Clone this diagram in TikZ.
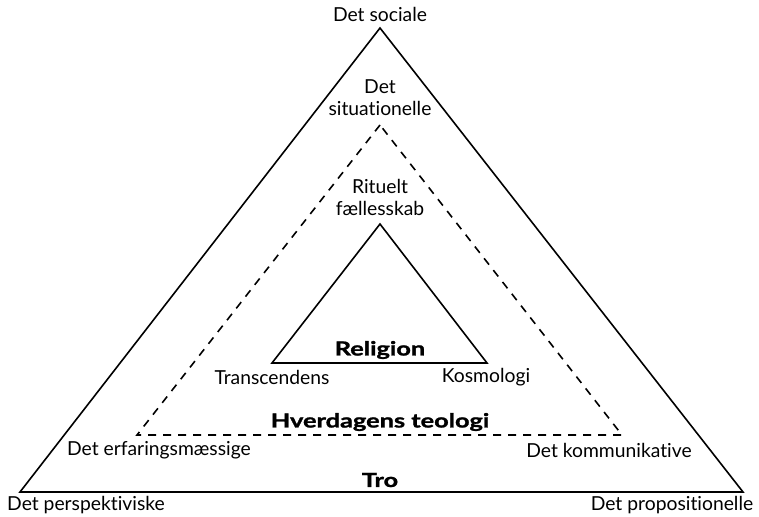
\documentclass[tikz,border=0pt]{standalone}
\usepackage{fontspec}
\setmainfont{Lato}[Ligatures={NoCommon,NoRare,NoDiscretionary}]
\begin{document}
\begin{tikzpicture}[x=1pt,y=-1pt,
  tri/.style={draw=black,line width=1.6pt,line join=miter},
  dtri/.style={draw=black,line width=1.6pt,dash pattern=on 8pt off 7pt},
  lbl/.style={font=\fontsize{19.3}{22}\selectfont,inner sep=0pt,align=center},
  blbl/.style={font=\fontsize{19.5}{22}\selectfont\bfseries\addfontfeature{FakeBold=1.2},inner sep=0pt}]
\useasboundingbox (0,0) rectangle (759,516);
% outer triangle
\coordinate (oA) at (380,28);
\coordinate (oL) at (20,492);
\coordinate (oR) at (743,492);
\draw[tri] (oA) -- (oL) -- (oR) -- cycle;
% dashed triangle
\coordinate (dA) at (380,125);
\coordinate (dL) at (137,435);
\coordinate (dR) at (622,435);
\draw[dtri] (dA) -- (dL) -- (dR) -- cycle;
% inner triangle
\coordinate (iA) at (380,224);
\coordinate (iL) at (272,363);
\coordinate (iR) at (487,363);
\draw[tri] (iA) -- (iL) -- (iR) -- cycle;
% labels
\node[lbl] (sociale) at (380,14) {Det sociale};
\node[lbl] (situ) at (380,98) {Det\\[0pt]situationelle};
\node[lbl] (rit) at (380,197) {Rituelt\\[0pt]fællesskab};
\node[blbl] (rel) at (380,350) {\scalebox{1.3}[1]{Religion}};
\node[lbl] (trans) at (272,377) {Transcendens};
\node[lbl] (kos) at (486,377) {Kosmologi};
\node[blbl] (hverd) at (380,422) {\scalebox{1.3}[1]{Hverdagens teologi}};
\node[lbl] (erf) at (159,450) {Det erfaringsmæssige};
\node[lbl] (kom) at (609,450) {Det kommunikative};
\node[blbl] (tro) at (380,480) {\scalebox{1.3}[1]{Tro}};
\node[lbl] (persp) at (86,505) {Det perspektiviske};
\node[lbl] (prop) at (672,505) {Det propositionelle};
\end{tikzpicture}
\end{document}
